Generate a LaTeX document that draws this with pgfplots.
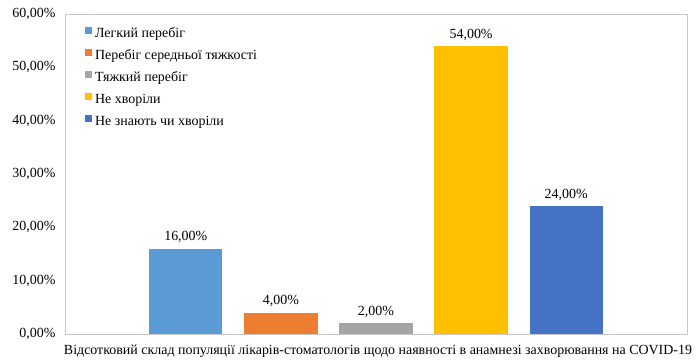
\documentclass[border=0pt]{standalone}
\usepackage{fontspec}
\setmainfont{Liberation Serif}
\usepackage{pgfplots}
\pgfplotsset{compat=1.18}

\definecolor{c1}{HTML}{5B9BD5}
\definecolor{c2}{HTML}{ED7D31}
\definecolor{c3}{HTML}{A5A5A5}
\definecolor{c4}{HTML}{FFC000}
\definecolor{c5}{HTML}{4472C4}

\begin{document}
\begin{tikzpicture}
\begin{axis}[
  name=main,
  scale only axis, width=622bp, height=320bp,
  xmin=-1.27, xmax=5.27, ymin=0, ymax=60,
  ytick={0,10,...,60},
  xtick=\empty,
  axis line style={draw=black!22},
  tick style={draw=none},
  /pgf/number format/assume math mode=true,
  yticklabel={\pgfmathprintnumber[fixed,fixed zerofill,precision=2,use comma]{\tick}\%},
  yticklabel style={font=\fontsize{14}{16}\selectfont, xshift=-6bp},
  xlabel={Відсотковий склад популяції лікарів-стоматологів щодо наявності в анамнезі захворювання на COVID-19},
  xlabel style={font=\fontsize{14}{16}\selectfont, at={(axis description cs:0.5,0)}, anchor=center, yshift=-17bp, xshift=2bp},
  legend style={at={(rel axis cs:0.032,0.975)}, anchor=north west, draw=none, fill=none,
    font=\fontsize{14}{16}\selectfont, row sep=0bp, inner sep=0pt,
    nodes={text height=14bp, text depth=6bp, inner sep=1bp}},
  legend cell align=left,
  legend image code/.code={\fill[#1] (0bp,-0.5bp) rectangle (7bp,6.5bp);},
  every node near coord/.append style={font=\fontsize{14}{16}\selectfont, yshift=2bp},
  nodes near coords={\pgfmathprintnumber[fixed,fixed zerofill,precision=2,use comma]{\pgfplotspointmeta}\%},
  clip=false,
]
\addplot[ybar, bar width=0.77, bar shift=0pt, fill=c1, draw=none] coordinates {(0,16)};
\addlegendentry{\hspace{2bp}Легкий перебіг}
\addplot[ybar, bar width=0.77, bar shift=0pt, fill=c2, draw=none] coordinates {(1,4)};
\addlegendentry{\hspace{2bp}Перебіг середньої тяжкості}
\addplot[ybar, bar width=0.77, bar shift=0pt, fill=c3, draw=none] coordinates {(2,2)};
\addlegendentry{\hspace{2bp}Тяжкий перебіг}
\addplot[ybar, bar width=0.77, bar shift=0pt, fill=c4, draw=none] coordinates {(3,54)};
\addlegendentry{\hspace{2bp}Не хворіли}
\addplot[ybar, bar width=0.77, bar shift=0pt, fill=c5, draw=none] coordinates {(4,24)};
\addlegendentry{\hspace{2bp}Не знають чи хворіли}
\end{axis}
\pgfresetboundingbox
\path (main.south west) ++(-65bp,-27bp) coordinate (bl);
\path (main.north east) ++(10bp,14bp) coordinate (tr);
\path[use as bounding box] (bl) rectangle (tr);
\end{tikzpicture}
\end{document}
